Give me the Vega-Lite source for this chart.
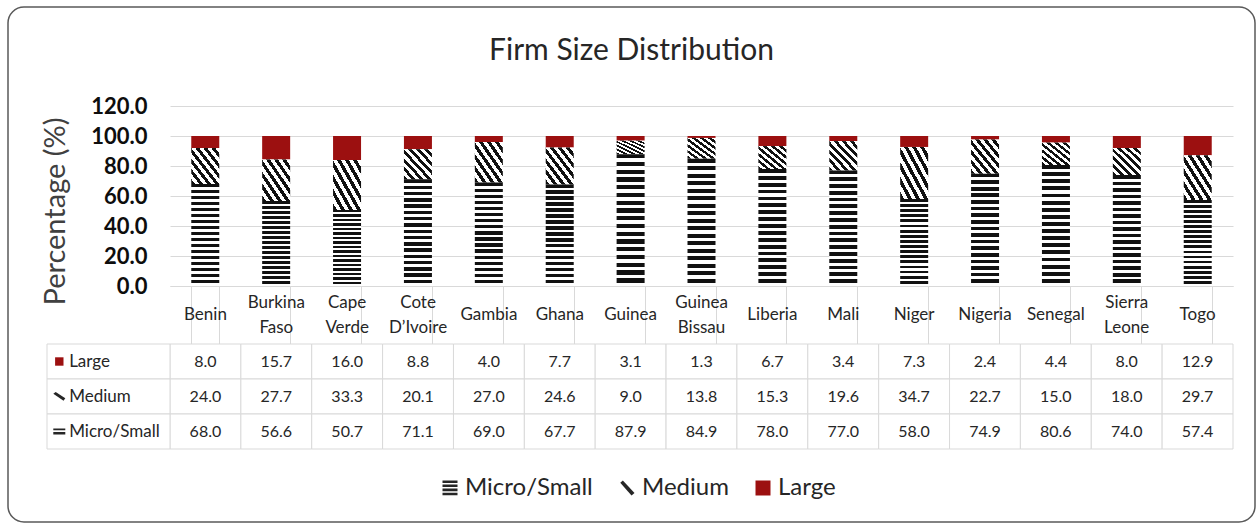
{
  "$schema": "https://vega.github.io/schema/vega-lite/v6.json",
  "width": 1247,
  "height": 515,
  "autosize": {"type": "none"},
  "padding": {"left": 8, "top": 7, "right": 4, "bottom": 3},
  "background": "white",
  "config": {"view": {"stroke": "#595959", "strokeWidth": 1.5, "cornerRadius": 16}, "font": "Lato"},
  "title": {"text": "Firm Size Distribution", "font": "Lato", "fontSize": 30, "fontWeight": "normal", "color": "#262626", "anchor": "middle", "frame": "group", "baseline": "alphabetic", "offset": -83},
  "data": {"values": [
    {"country": "Benin", "series": "Large", "value": 8.0},
    {"country": "Benin", "series": "Medium", "value": 24.0},
    {"country": "Benin", "series": "Micro/Small", "value": 68.0},
    {"country": "Burkina Faso", "series": "Large", "value": 15.7},
    {"country": "Burkina Faso", "series": "Medium", "value": 27.7},
    {"country": "Burkina Faso", "series": "Micro/Small", "value": 56.6},
    {"country": "Cape Verde", "series": "Large", "value": 16.0},
    {"country": "Cape Verde", "series": "Medium", "value": 33.3},
    {"country": "Cape Verde", "series": "Micro/Small", "value": 50.7},
    {"country": "Cote D’Ivoire", "series": "Large", "value": 8.8},
    {"country": "Cote D’Ivoire", "series": "Medium", "value": 20.1},
    {"country": "Cote D’Ivoire", "series": "Micro/Small", "value": 71.1},
    {"country": "Gambia", "series": "Large", "value": 4.0},
    {"country": "Gambia", "series": "Medium", "value": 27.0},
    {"country": "Gambia", "series": "Micro/Small", "value": 69.0},
    {"country": "Ghana", "series": "Large", "value": 7.7},
    {"country": "Ghana", "series": "Medium", "value": 24.6},
    {"country": "Ghana", "series": "Micro/Small", "value": 67.7},
    {"country": "Guinea", "series": "Large", "value": 3.1},
    {"country": "Guinea", "series": "Medium", "value": 9.0},
    {"country": "Guinea", "series": "Micro/Small", "value": 87.9},
    {"country": "Guinea Bissau", "series": "Large", "value": 1.3},
    {"country": "Guinea Bissau", "series": "Medium", "value": 13.8},
    {"country": "Guinea Bissau", "series": "Micro/Small", "value": 84.9},
    {"country": "Liberia", "series": "Large", "value": 6.7},
    {"country": "Liberia", "series": "Medium", "value": 15.3},
    {"country": "Liberia", "series": "Micro/Small", "value": 78.0},
    {"country": "Mali", "series": "Large", "value": 3.4},
    {"country": "Mali", "series": "Medium", "value": 19.6},
    {"country": "Mali", "series": "Micro/Small", "value": 77.0},
    {"country": "Niger", "series": "Large", "value": 7.3},
    {"country": "Niger", "series": "Medium", "value": 34.7},
    {"country": "Niger", "series": "Micro/Small", "value": 58.0},
    {"country": "Nigeria", "series": "Large", "value": 2.4},
    {"country": "Nigeria", "series": "Medium", "value": 22.7},
    {"country": "Nigeria", "series": "Micro/Small", "value": 74.9},
    {"country": "Senegal", "series": "Large", "value": 4.4},
    {"country": "Senegal", "series": "Medium", "value": 15.0},
    {"country": "Senegal", "series": "Micro/Small", "value": 80.6},
    {"country": "Sierra Leone", "series": "Large", "value": 8.0},
    {"country": "Sierra Leone", "series": "Medium", "value": 18.0},
    {"country": "Sierra Leone", "series": "Micro/Small", "value": 74.0},
    {"country": "Togo", "series": "Large", "value": 12.9},
    {"country": "Togo", "series": "Medium", "value": 29.7},
    {"country": "Togo", "series": "Micro/Small", "value": 57.4}
  ]},
  "resolve": {"scale": {"x": "independent", "y": "independent"}},
  "layer": [
    {
      "mark": {"type": "bar"},
      "encoding": {
        "x": {
          "field": "country", "type": "nominal", "sort": null,
          "scale": {"domain": ["Benin", "Burkina Faso", "Cape Verde", "Cote D’Ivoire", "Gambia", "Ghana", "Guinea", "Guinea Bissau", "Liberia", "Mali", "Niger", "Nigeria", "Senegal", "Sierra Leone", "Togo"], "range": [162, 1225], "paddingInner": 0.605, "paddingOuter": 0.3},
          "axis": {"orient": "bottom", "offset": -236, "title": null, "domain": true, "domainColor": "#d9d9d9", "ticks": true, "tickBand": "extent", "tickSize": 58, "tickColor": "#d9d9d9", "labels": false}
        },
        "y": {
          "field": "value", "type": "quantitative", "stack": "zero",
          "scale": {"domain": [0, 120], "range": [279, 99], "nice": false},
          "axis": {"orient": "left", "offset": -162, "values": [0, 20, 40, 60, 80, 100, 120], "format": ".1f", "domain": false, "ticks": false, "labelFont": "Lato", "labelFontWeight": "bold", "labelFontSize": 22, "labelColor": "#0d0d0d", "labelPadding": 23, "grid": true, "gridColor": "#d9d9d9", "gridWidth": 1, "title": "Percentage (%)", "titleFont": "Lato", "titleFontSize": 29, "titleFontWeight": "normal", "titleColor": "#404040", "titlePadding": 20, "titleY": 204}
        },
        "order": {"field": "series", "sort": "descending"},
        "fill": {
          "field": "series", "type": "nominal",
          "scale": {"domain": ["Micro/Small", "Medium", "Large"], "range": ["#262626", "#262626", "#9c1010"]},
          "condition": [
            {"test": "datum.series === 'Large'", "value": "#9c1010"},
            {"test": "datum.series === 'Medium'", "value": {"gradient": "linear", "x1": 0, "y1": 1, "x2": 1, "y2": 0, "stops": [
              {"offset": 0, "color": "#111111"}, {"offset": 0.07, "color": "#111111"}, {"offset": 0.07, "color": "#ffffff"}, {"offset": 0.1429, "color": "#ffffff"},
              {"offset": 0.1429, "color": "#111111"}, {"offset": 0.2129, "color": "#111111"}, {"offset": 0.2129, "color": "#ffffff"}, {"offset": 0.2857, "color": "#ffffff"},
              {"offset": 0.2857, "color": "#111111"}, {"offset": 0.3557, "color": "#111111"}, {"offset": 0.3557, "color": "#ffffff"}, {"offset": 0.4286, "color": "#ffffff"},
              {"offset": 0.4286, "color": "#111111"}, {"offset": 0.4986, "color": "#111111"}, {"offset": 0.4986, "color": "#ffffff"}, {"offset": 0.5714, "color": "#ffffff"},
              {"offset": 0.5714, "color": "#111111"}, {"offset": 0.6414, "color": "#111111"}, {"offset": 0.6414, "color": "#ffffff"}, {"offset": 0.7143, "color": "#ffffff"},
              {"offset": 0.7143, "color": "#111111"}, {"offset": 0.7843, "color": "#111111"}, {"offset": 0.7843, "color": "#ffffff"}, {"offset": 0.8571, "color": "#ffffff"},
              {"offset": 0.8571, "color": "#111111"}, {"offset": 0.9271, "color": "#111111"}, {"offset": 0.9271, "color": "#ffffff"}, {"offset": 1, "color": "#ffffff"}
            ]}},
            {"test": "datum.series === 'Micro/Small'", "value": {"gradient": "linear", "x1": 0, "y1": 0, "x2": 0, "y2": 1, "stops": [
              {"offset": 0, "color": "#111111"}, {"offset": 0.0324, "color": "#111111"}, {"offset": 0.0324, "color": "#ffffff"}, {"offset": 0.0588, "color": "#ffffff"},
              {"offset": 0.0588, "color": "#111111"}, {"offset": 0.0912, "color": "#111111"}, {"offset": 0.0912, "color": "#ffffff"}, {"offset": 0.1176, "color": "#ffffff"},
              {"offset": 0.1176, "color": "#111111"}, {"offset": 0.15, "color": "#111111"}, {"offset": 0.15, "color": "#ffffff"}, {"offset": 0.1765, "color": "#ffffff"},
              {"offset": 0.1765, "color": "#111111"}, {"offset": 0.2089, "color": "#111111"}, {"offset": 0.2089, "color": "#ffffff"}, {"offset": 0.2353, "color": "#ffffff"},
              {"offset": 0.2353, "color": "#111111"}, {"offset": 0.2677, "color": "#111111"}, {"offset": 0.2677, "color": "#ffffff"}, {"offset": 0.2941, "color": "#ffffff"},
              {"offset": 0.2941, "color": "#111111"}, {"offset": 0.3265, "color": "#111111"}, {"offset": 0.3265, "color": "#ffffff"}, {"offset": 0.3529, "color": "#ffffff"},
              {"offset": 0.3529, "color": "#111111"}, {"offset": 0.3853, "color": "#111111"}, {"offset": 0.3853, "color": "#ffffff"}, {"offset": 0.4118, "color": "#ffffff"},
              {"offset": 0.4118, "color": "#111111"}, {"offset": 0.4442, "color": "#111111"}, {"offset": 0.4442, "color": "#ffffff"}, {"offset": 0.4706, "color": "#ffffff"},
              {"offset": 0.4706, "color": "#111111"}, {"offset": 0.503, "color": "#111111"}, {"offset": 0.503, "color": "#ffffff"}, {"offset": 0.5294, "color": "#ffffff"},
              {"offset": 0.5294, "color": "#111111"}, {"offset": 0.5618, "color": "#111111"}, {"offset": 0.5618, "color": "#ffffff"}, {"offset": 0.5882, "color": "#ffffff"},
              {"offset": 0.5882, "color": "#111111"}, {"offset": 0.6206, "color": "#111111"}, {"offset": 0.6206, "color": "#ffffff"}, {"offset": 0.6471, "color": "#ffffff"},
              {"offset": 0.6471, "color": "#111111"}, {"offset": 0.6795, "color": "#111111"}, {"offset": 0.6795, "color": "#ffffff"}, {"offset": 0.7059, "color": "#ffffff"},
              {"offset": 0.7059, "color": "#111111"}, {"offset": 0.7383, "color": "#111111"}, {"offset": 0.7383, "color": "#ffffff"}, {"offset": 0.7647, "color": "#ffffff"},
              {"offset": 0.7647, "color": "#111111"}, {"offset": 0.7971, "color": "#111111"}, {"offset": 0.7971, "color": "#ffffff"}, {"offset": 0.8235, "color": "#ffffff"},
              {"offset": 0.8235, "color": "#111111"}, {"offset": 0.8559, "color": "#111111"}, {"offset": 0.8559, "color": "#ffffff"}, {"offset": 0.8824, "color": "#ffffff"},
              {"offset": 0.8824, "color": "#111111"}, {"offset": 0.9148, "color": "#111111"}, {"offset": 0.9148, "color": "#ffffff"}, {"offset": 0.9412, "color": "#ffffff"},
              {"offset": 0.9412, "color": "#111111"}, {"offset": 0.9736, "color": "#111111"}, {"offset": 0.9736, "color": "#ffffff"}, {"offset": 1, "color": "#ffffff"}
            ]}}
          ],
          "legend": {
            "orient": "none", "legendX": 430, "legendY": 469, "direction": "horizontal", "title": null,
            "labelFont": "Lato", "labelFontSize": 24, "labelColor": "#262626", "labelOffset": 3,
            "symbolSize": 225, "symbolStrokeWidth": 0, "columnPadding": 22, "padding": 0,
            "encode": {"symbols": {"update": {
              "shape": {"signal": "datum.value === 'Large' ? 'square' : datum.value === 'Medium' ? 'M-0.9,-0.7L-0.55,-1L1,0.65L0.6,1Z' : 'M-1,-1H1V-0.66H-1Z M-1,-0.46H1V-0.12H-1Z M-1,0.08H1V0.42H-1Z M-1,0.62H1V0.96H-1Z'"},
              "fill": {"signal": "datum.value === 'Large' ? '#9c1010' : '#262626'"},
              "opacity": {"value": 1}
            }}}
          }
        }
      }
    },
    {
      "layer": [
        {
          "mark": {"type": "rect", "fill": "white", "stroke": "#d9d9d9", "strokeWidth": 1},
          "encoding": {
            "x": {"field": "country", "type": "nominal", "sort": null, "scale": {"type": "band", "domain": ["Benin", "Burkina Faso", "Cape Verde", "Cote D’Ivoire", "Gambia", "Ghana", "Guinea", "Guinea Bissau", "Liberia", "Mali", "Niger", "Nigeria", "Senegal", "Sierra Leone", "Togo"], "range": [162, 1225], "paddingInner": 0, "paddingOuter": 0}, "axis": null},
            "y": {"field": "series", "type": "nominal", "scale": {"type": "band", "domain": ["Large", "Medium", "Micro/Small"], "range": [337, 442], "paddingInner": 0, "paddingOuter": 0}, "axis": null}
          }
        },
        {
          "mark": {"type": "text", "font": "Lato", "fontSize": 16, "color": "#262626", "baseline": "middle"},
          "encoding": {
            "x": {"field": "country", "type": "nominal", "axis": null},
            "y": {"field": "series", "type": "nominal", "axis": null},
            "text": {"field": "value", "type": "quantitative", "format": ".1f"}
          }
        }
      ]
    },
    {
      "transform": [{"aggregate": [{"op": "count", "as": "n"}], "groupby": ["country"]}],
      "layer": [
        {
          "transform": [{"filter": "indexof(datum.country, ' ') < 0"}],
          "mark": {"type": "text", "font": "Lato", "fontSize": 17, "color": "#262626", "baseline": "middle"},
          "encoding": {
            "x": {"field": "country", "type": "nominal", "sort": null, "scale": {"type": "band", "domain": ["Benin", "Burkina Faso", "Cape Verde", "Cote D’Ivoire", "Gambia", "Ghana", "Guinea", "Guinea Bissau", "Liberia", "Mali", "Niger", "Nigeria", "Senegal", "Sierra Leone", "Togo"], "range": [162, 1225], "paddingInner": 0, "paddingOuter": 0}, "axis": null},
            "y": {"datum": "header", "type": "nominal", "scale": {"type": "band", "domain": ["header"], "range": [279, 337], "paddingInner": 0, "paddingOuter": 0}, "axis": null},
            "text": {"field": "country"}
          }
        },
        {
          "transform": [{"filter": "indexof(datum.country, ' ') >= 0"}],
          "mark": {"type": "text", "font": "Lato", "fontSize": 17, "color": "#262626", "baseline": "middle", "lineBreak": " ", "lineHeight": 25, "dy": -12.5},
          "encoding": {
            "x": {"field": "country", "type": "nominal", "axis": null},
            "y": {"datum": "header", "type": "nominal", "axis": null},
            "text": {"field": "country"}
          }
        }
      ]
    },
    {
      "transform": [{"aggregate": [{"op": "count", "as": "n"}], "groupby": ["series"]}],
      "layer": [
        {
          "mark": {"type": "rect", "fill": "white", "stroke": "#d9d9d9", "strokeWidth": 1},
          "encoding": {
            "x": {"datum": "label", "type": "nominal", "scale": {"type": "band", "domain": ["label"], "range": [39, 162], "paddingInner": 0, "paddingOuter": 0}, "axis": null},
            "y": {"field": "series", "type": "nominal", "scale": {"type": "band", "domain": ["Large", "Medium", "Micro/Small"], "range": [337, 442], "paddingInner": 0, "paddingOuter": 0}, "axis": null}
          }
        },
        {
          "mark": {"type": "point", "filled": true, "opacity": 1, "strokeWidth": 0, "size": 144},
          "encoding": {
            "x": {"datum": "label", "type": "nominal", "bandPosition": 0.1, "axis": null},
            "y": {"field": "series", "type": "nominal", "axis": null},
            "shape": {"field": "series", "type": "nominal", "scale": {"domain": ["Large", "Medium", "Micro/Small"], "range": ["M-0.7,-0.7H0.7V0.7H-0.7Z", "M-1,-0.45L-0.6,-0.75L1,0.3L0.7,0.7Z", "M-1,-0.5H1V-0.2H-1Z M-1,0.1H1V0.5H-1Z"]}, "legend": null},
            "color": {"field": "series", "type": "nominal", "scale": {"domain": ["Large", "Medium", "Micro/Small"], "range": ["#9c1010", "#262626", "#262626"]}, "legend": null}
          }
        },
        {
          "mark": {"type": "text", "align": "left", "baseline": "middle", "font": "Lato", "fontSize": 17, "color": "#262626"},
          "encoding": {
            "x": {"datum": "label", "type": "nominal", "bandPosition": 0.18, "axis": null},
            "y": {"field": "series", "type": "nominal", "axis": null},
            "text": {"field": "series"}
          }
        }
      ]
    }
  ]
}
